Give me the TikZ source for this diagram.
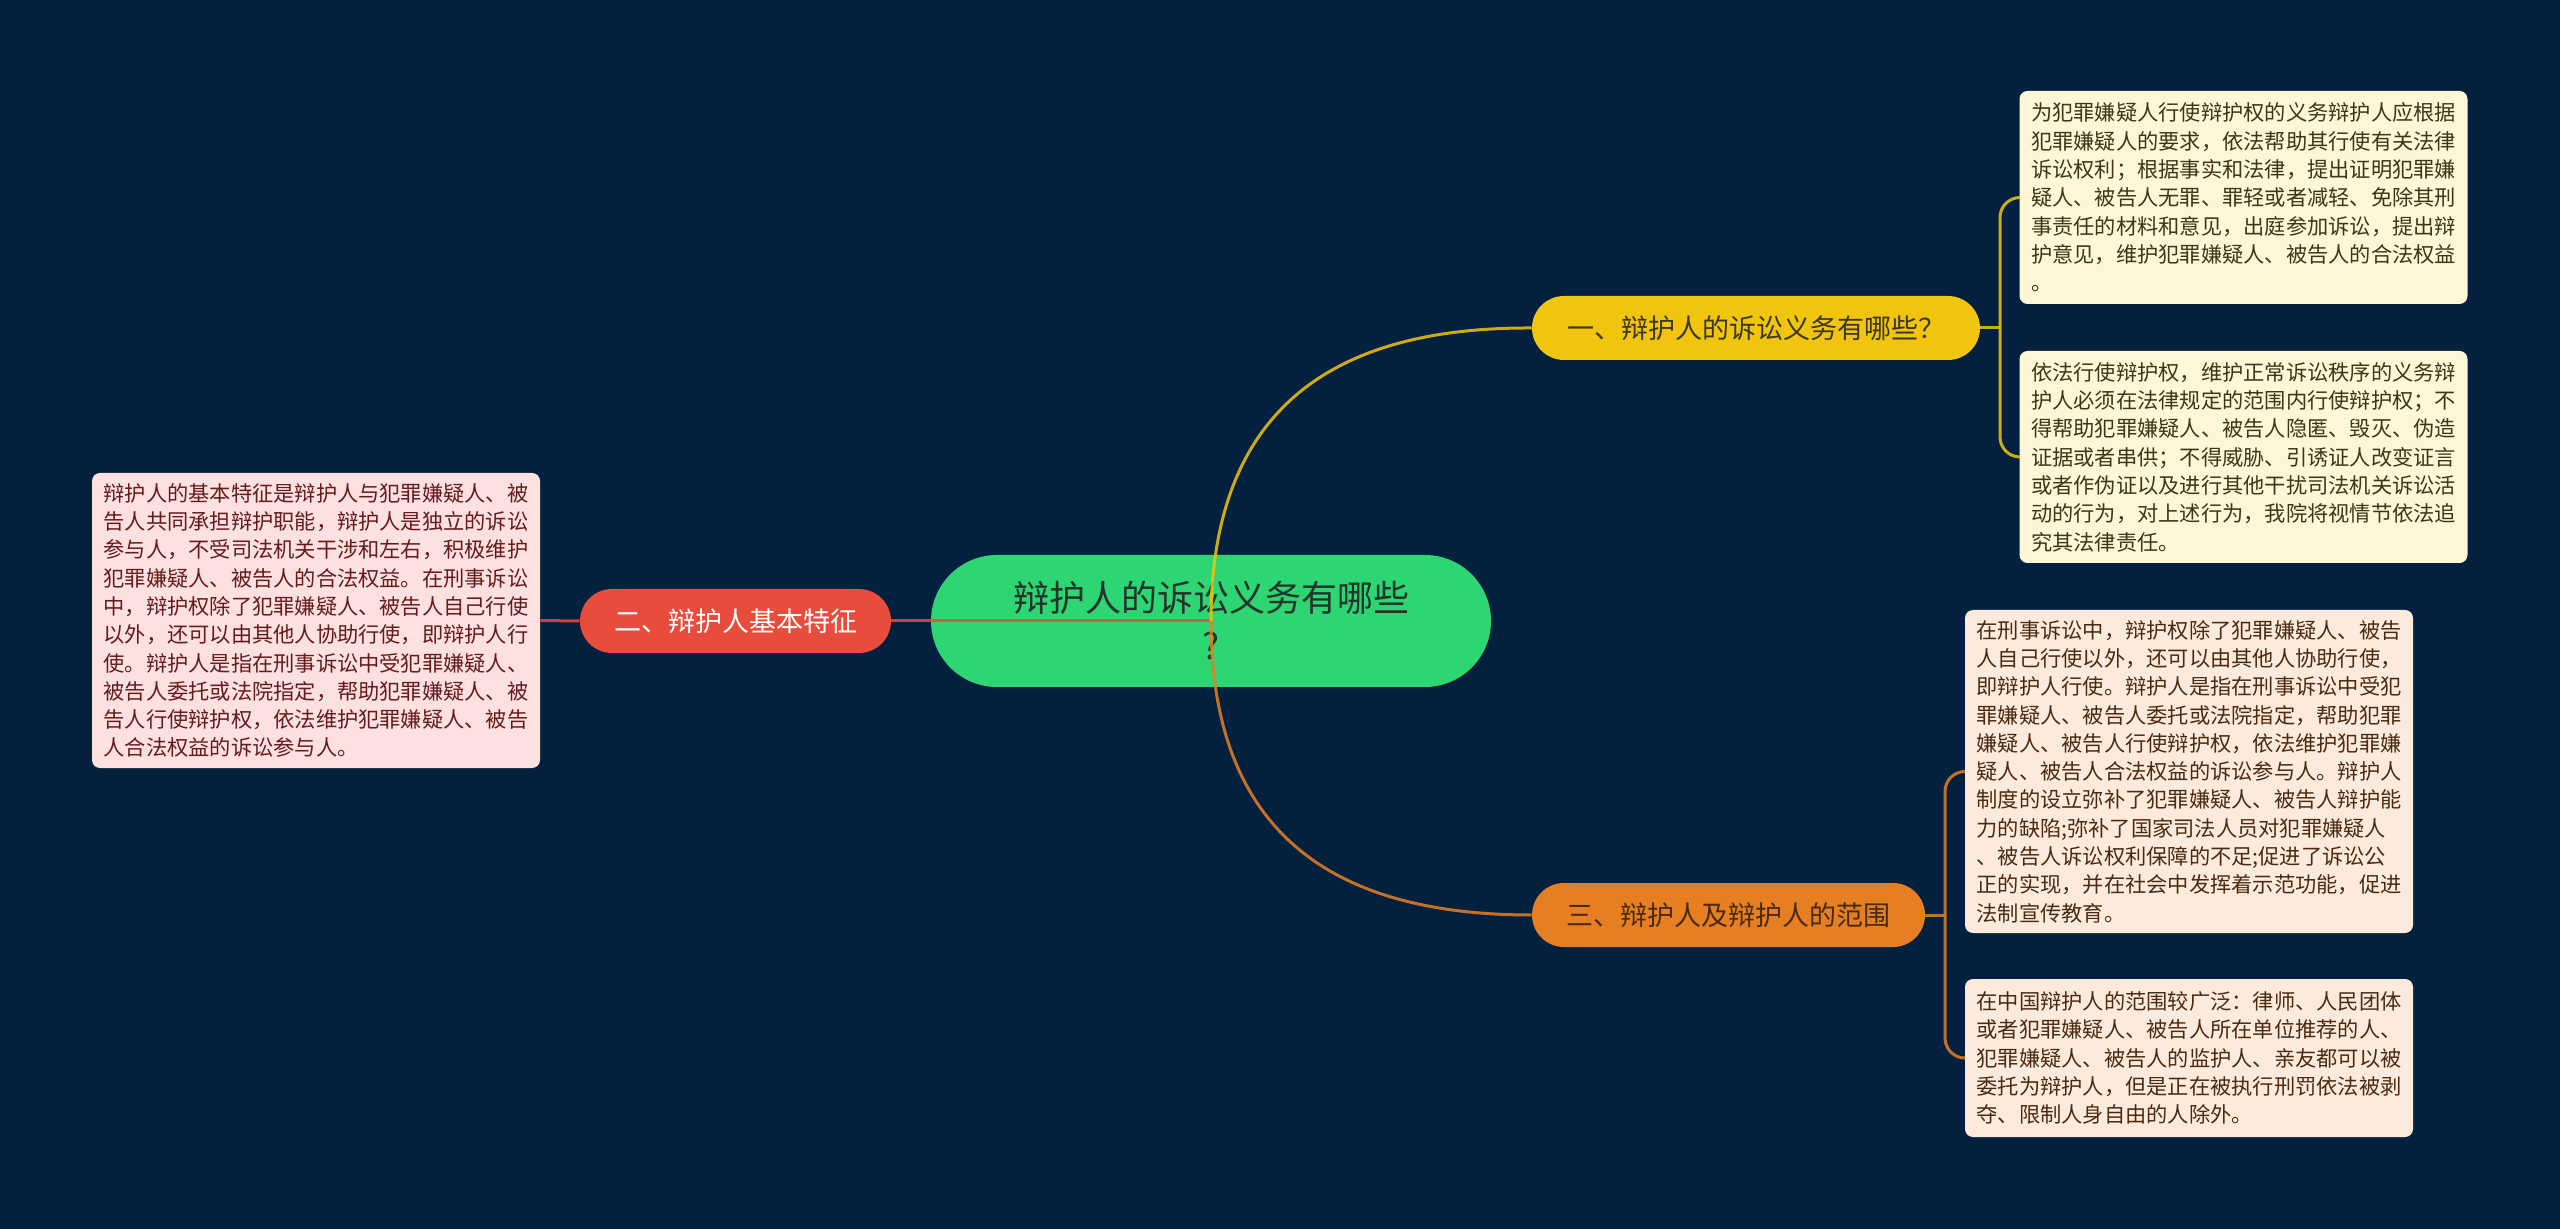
\documentclass[tikz,border=0pt]{standalone}
\usepackage{fontspec}
\setmainfont{Noto Sans CJK SC}
\definecolor{bgnavy}{HTML}{03213F}
\definecolor{rootgreen}{HTML}{2ED573}
\definecolor{roottxt}{HTML}{22352B}
\definecolor{dutyyellow}{HTML}{F1C40F}
\definecolor{featred}{HTML}{E74C3C}
\definecolor{scopeorange}{HTML}{E67E22}
\definecolor{dutyfill}{HTML}{FFF6D6}
\definecolor{dutytxt}{HTML}{3B3719}
\definecolor{scopefill}{HTML}{FCEBDC}
\definecolor{scopetxt}{HTML}{4A2A12}
\definecolor{featfill}{HTML}{FCE1E0}
\definecolor{feattxt}{HTML}{651B1B}

\begin{document}
\begin{tikzpicture}[x=0.5pt,y=-0.5pt,
  pill/.style={rounded corners=16pt,minimum height=32pt,inner sep=0pt,
    font=\fontsize{13.5}{16}\selectfont},
  leaf/.style={rounded corners=4pt,text width=212.5pt,inner xsep=5.75pt,
    inner ysep=0pt,align=left,font=\fontsize{10.625}{14.15}\selectfont},
  link/.style={line width=1.5pt,draw opacity=0.85}]

\useasboundingbox (0,0) rectangle (2560,1229);
\fill[bgnavy] (0,0) rectangle (2560,1229);

% ---- the centre topic ----
\node[fill=rootgreen,text=roottxt,rounded corners=33pt,minimum width=280pt,
  minimum height=66pt,align=center,font=\fontsize{18}{24}\selectfont]
  (root) at (1211,621) {辩护人的诉讼义务有哪些\\?};
\coordinate (hub) at (1211,621);

% ---- the three branch topics ----
\node[pill,fill=dutyyellow,text=dutytxt,minimum width=224pt] (duty) at (1756,328)
  {一、辩护人的诉讼义务有哪些？};
\node[pill,fill=featred,text=white,minimum width=155.5pt] (feat) at (735.5,621)
  {二、辩护人基本特征};
\node[pill,fill=scopeorange,text=scopetxt,minimum width=196.5pt] (scope) at (1728.5,915)
  {三、辩护人及辩护人的范围};

% ---- the leaves ----
\node[leaf,fill=dutyfill,text=dutytxt,minimum height=106.5pt] (duty1) at (2243.5,197.5)
  {为犯罪嫌疑人行使辩护权的义务辩护人应根据\\
   犯罪嫌疑人的要求，依法帮助其行使有关法律\\
   诉讼权利；根据事实和法律，提出证明犯罪嫌\\
   疑人、被告人无罪、罪轻或者减轻、免除其刑\\
   事责任的材料和意见，出庭参加诉讼，提出辩\\
   护意见，维护犯罪嫌疑人、被告人的合法权益\\
   。};
\node[leaf,fill=dutyfill,text=dutytxt,minimum height=106pt] (duty2) at (2243.5,457)
  {依法行使辩护权，维护正常诉讼秩序的义务辩\\
   护人必须在法律规定的范围内行使辩护权；不\\
   得帮助犯罪嫌疑人、被告人隐匿、毁灭、伪造\\
   证据或者串供；不得威胁、引诱证人改变证言\\
   或者作伪证以及进行其他干扰司法机关诉讼活\\
   动的行为，对上述行为，我院将视情节依法追\\
   究其法律责任。};
\node[leaf,fill=scopefill,text=scopetxt,minimum height=161.5pt] (scope1) at (2189,771.5)
  {在刑事诉讼中，辩护权除了犯罪嫌疑人、被告\\
   人自己行使以外，还可以由其他人协助行使，\\
   即辩护人行使。辩护人是指在刑事诉讼中受犯\\
   罪嫌疑人、被告人委托或法院指定，帮助犯罪\\
   嫌疑人、被告人行使辩护权，依法维护犯罪嫌\\
   疑人、被告人合法权益的诉讼参与人。辩护人\\
   制度的设立弥补了犯罪嫌疑人、被告人辩护能\\
   力的缺陷;弥补了国家司法人员对犯罪嫌疑人\\
   、被告人诉讼权利保障的不足;促进了诉讼公\\
   正的实现，并在社会中发挥着示范功能，促进\\
   法制宣传教育。};
\node[leaf,fill=scopefill,text=scopetxt,minimum height=79pt] (scope2) at (2189,1058)
  {在中国辩护人的范围较广泛：律师、人民团体\\
   或者犯罪嫌疑人、被告人所在单位推荐的人、\\
   犯罪嫌疑人、被告人的监护人、亲友都可以被\\
   委托为辩护人，但是正在被执行刑罚依法被剥\\
   夺、限制人身自由的人除外。};
\node[leaf,fill=featfill,text=feattxt,minimum height=147.5pt] (feat1) at (316,620.5)
  {辩护人的基本特征是辩护人与犯罪嫌疑人、被\\
   告人共同承担辩护职能，辩护人是独立的诉讼\\
   参与人，不受司法机关干涉和左右，积极维护\\
   犯罪嫌疑人、被告人的合法权益。在刑事诉讼\\
   中，辩护权除了犯罪嫌疑人、被告人自己行使\\
   以外，还可以由其他人协助行使，即辩护人行\\
   使。辩护人是指在刑事诉讼中受犯罪嫌疑人、\\
   被告人委托或法院指定，帮助犯罪嫌疑人、被\\
   告人行使辩护权，依法维护犯罪嫌疑人、被告\\
   人合法权益的诉讼参与人。};

% ---- links from the centre ----
\draw[link,featred] (hub) -- (feat.east);
\draw[link,dutyyellow] (hub) .. controls (1211,402) and (1341,327) .. (duty.west);
\draw[link,scopeorange] (hub) .. controls (1211,840) and (1341,915) .. (scope.west);

% ---- links to the leaves ----
\coordinate (dutyfork) at (2000,328);
\coordinate (scopefork) at (1945,915);
\draw[link,dutyyellow] (duty.east) -- (dutyfork);
\draw[link,dutyyellow,rounded corners=10pt] (dutyfork) |- (duty1.west);
\draw[link,dutyyellow,rounded corners=10pt] (dutyfork) |- (duty2.west);
\draw[link,scopeorange] (scope.east) -- (scopefork);
\draw[link,scopeorange,rounded corners=10pt] (scopefork) |- (scope1.west);
\draw[link,scopeorange,rounded corners=10pt] (scopefork) |- (scope2.west);
\draw[link,featred] (feat.west) -- (feat1.east);

\end{tikzpicture}
\end{document}
